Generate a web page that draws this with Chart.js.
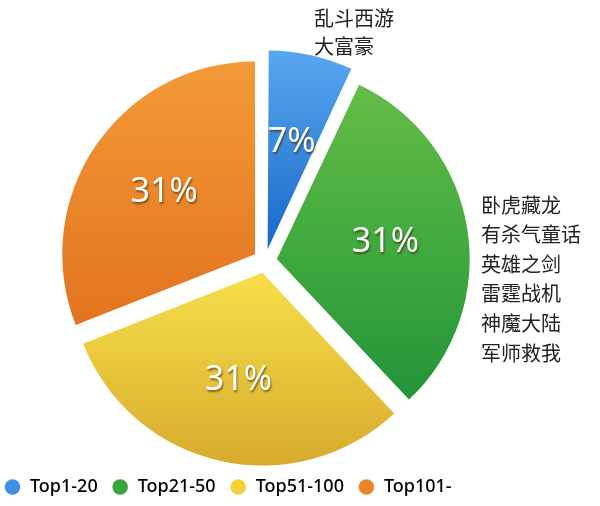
<!DOCTYPE html>
<html>
<head>
<meta charset="utf-8">
<script src="https://cdn.jsdelivr.net/npm/chart.js@4"></script>
<style>
  html, body { margin: 0; padding: 0; background: #fff; }
  #wrap { width: 600px; height: 506px; }
</style>
</head>
<body>
<div id="wrap"><canvas id="myChartRank"></canvas></div>
<script>
// data
const categories = ['Top1-20', 'Top21-50', 'Top51-100', 'Top101-'];
const shares = [7, 31, 31, 31];
const shareLabels = ['7%', '31%', '31%', '31%'];
const topGames = ['乱斗西游', '大富豪'];
const midGames = ['卧虎藏龙', '有杀气童话', '英雄之剑', '雷霆战机', '神魔大陆', '军师救我'];

// colours: light top -> dark bottom, stops relative to chart area
const sliceStops = [
    [[0.0, '#5aa9ef'], [0.47, '#1b6ccc']],
    [[0.07, '#66bc48'], [0.5, '#3ea83e'], [0.94, '#1c8e37']],
    [[0.5, '#f7df4a'], [1.02, '#d6a82c']],
    [[0.03, '#f39a38'], [0.72, '#e2701e']]
];
const legendColors = ['#3f8fe2', '#3aa53c', '#f1d03c', '#ec8529'];

function sliceFill(context) {
    const chart = context.chart;
    const area = chart.chartArea;
    const stops = sliceStops[context.dataIndex];
    if (!area) {
        return stops[stops.length - 1][1];
    }
    const g = chart.ctx.createLinearGradient(0, area.top, 0, area.bottom);
    stops.forEach(s => g.addColorStop(Math.min(Math.max(s[0], 0), 1), s[1]));
    return g;
}

// percent text inside the slices
const sliceLabels = {
    id: 'sliceLabels',
    afterDatasetsDraw(chart) {
        const ctx = chart.ctx;
        const meta = chart.getDatasetMeta(0);
        ctx.save();
        ctx.font = '34px "Noto Sans", "Open Sans", sans-serif';
        ctx.textAlign = 'center';
        ctx.textBaseline = 'middle';
        ctx.fillStyle = '#ffffff';
        ctx.shadowColor = 'rgba(60,40,0,0.6)';
        ctx.shadowOffsetX = 1;
        ctx.shadowOffsetY = 2;
        ctx.shadowBlur = 2;
        meta.data.forEach((arc, i) => {
            const p = arc.getProps(['x', 'y', 'startAngle', 'endAngle', 'outerRadius'], true);
            const mid = (p.startAngle + p.endAngle) / 2;
            const d = p.outerRadius * 0.635;
            ctx.fillText(shareLabels[i], p.x + Math.cos(mid) * d, p.y + Math.sin(mid) * d);
        });
        ctx.restore();
    }
};

// game name notes beside the pie
const gameNotes = {
    id: 'gameNotes',
    afterDraw(chart) {
        const ctx = chart.ctx;
        ctx.save();
        ctx.font = '20px "Noto Sans CJK SC", sans-serif';
        ctx.fillStyle = '#222222';
        ctx.textAlign = 'left';
        ctx.textBaseline = 'middle';
        topGames.forEach((name, i) => {
            ctx.fillText(name, 314, 18 + i * 28);
        });
        midGames.forEach((name, i) => {
            ctx.fillText(name, 481, 205 + i * 29.6);
        });
        ctx.restore();
    }
};

const ctxRank = document.getElementById('myChartRank').getContext('2d');
const myChartRank = new Chart(ctxRank, {
    type: 'pie',
    data: {
        labels: categories,
        datasets: [{
            data: shares,
            backgroundColor: sliceFill,
            borderWidth: 0,
            offset: 48,
            radius: 192
        }]
    },
    options: {
        responsive: true,
        maintainAspectRatio: false,
        animation: false,
        layout: {
            padding: { top: 58, left: -10, right: 70, bottom: 0 }
        },
        plugins: {
            tooltip: { enabled: false },
            legend: {
                position: 'bottom',
                align: 'start',
                labels: {
                    usePointStyle: true,
                    pointStyle: 'circle',
                    boxWidth: 17,
                    boxHeight: 11,
                    padding: 14,
                    color: '#000000',
                    font: { size: 18, weight: 500, family: '"Noto Sans", "Open Sans", sans-serif' },
                    generateLabels(chart) {
                        return chart.data.labels.map((label, i) => ({
                            text: label,
                            fillStyle: legendColors[i],
                            strokeStyle: legendColors[i],
                            lineWidth: 0,
                            pointStyle: 'circle',
                            hidden: false,
                            index: i
                        }));
                    }
                }
            }
        }
    },
    plugins: [sliceLabels, gameNotes]
});
</script>
</body>
</html>
